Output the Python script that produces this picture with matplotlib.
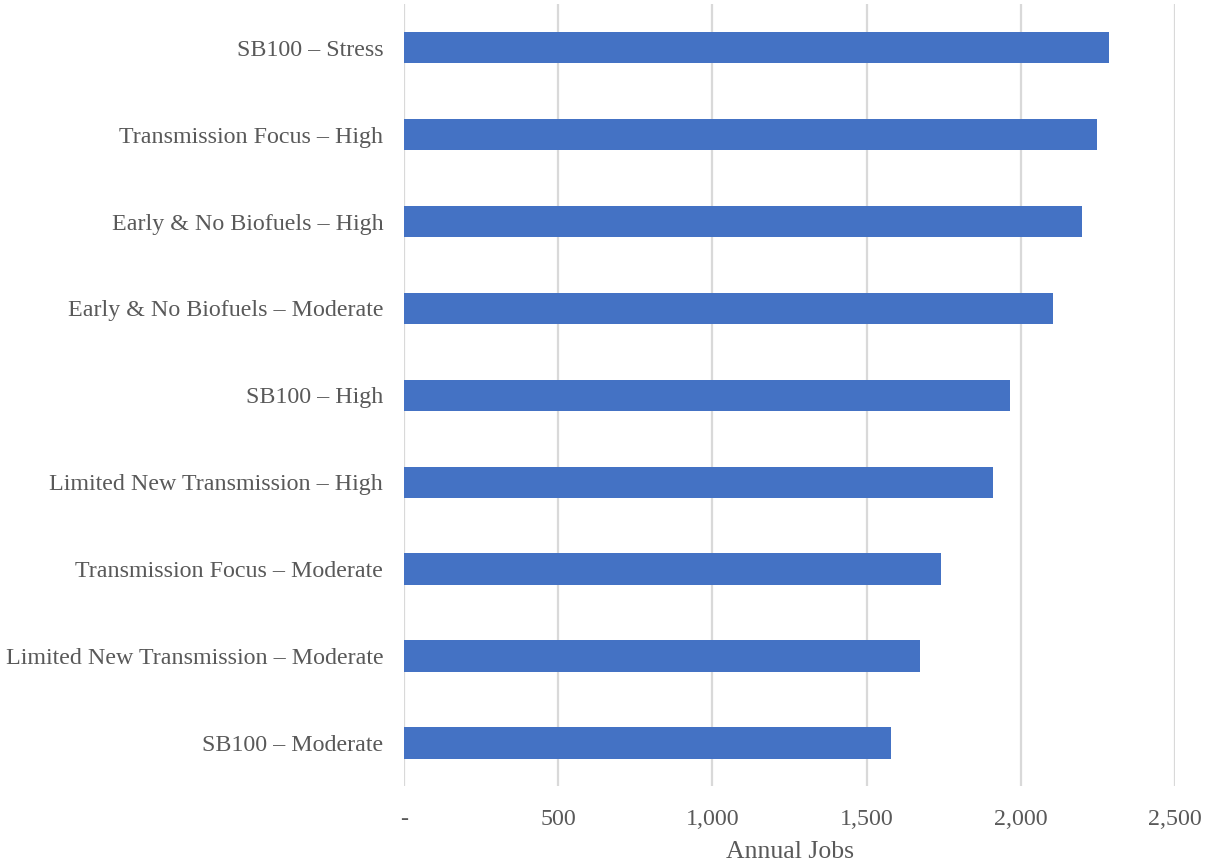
import matplotlib.pyplot as plt
from matplotlib.ticker import FuncFormatter

# scenarios, top to bottom
scenarios = [
    "SB100 \u2013 Stress",
    "Transmission Focus \u2013 High",
    "Early & No Biofuels \u2013 High",
    "Early & No Biofuels \u2013 Moderate",
    "SB100 \u2013 High",
    "Limited New Transmission \u2013 High",
    "Transmission Focus \u2013 Moderate",
    "Limited New Transmission \u2013 Moderate",
    "SB100 \u2013 Moderate",
]
annual_jobs = [2285, 2247, 2197, 2106, 1966, 1909, 1740, 1674, 1579]

TEXT = "#595959"
plt.rcParams["font.family"] = ["Liberation Serif", "DejaVu Serif"]

fig = plt.figure(figsize=(12.06, 8.67), dpi=100)
ax = fig.add_axes([0.335, 0.093, 0.6393, 0.902])

ypos = list(range(len(scenarios)))
ax.barh(ypos, annual_jobs, height=0.36, color="#4472C4", zorder=3)

ax.set_xlim(0, 2500)
ax.set_ylim(len(scenarios) - 0.5, -0.5)
ax.set_xticks([0, 500, 1000, 1500, 2000, 2500])
ax.xaxis.set_major_formatter(
    FuncFormatter(lambda v, _: "-" if v == 0 else f"{v:,.0f}"))
ax.set_yticks(ypos)
ax.set_yticklabels(scenarios)

ax.grid(axis="x", color="#D9D9D9", linewidth=1.6, zorder=0)
for s in ax.spines.values():
    s.set_visible(False)
ax.tick_params(axis="both", length=0, colors=TEXT, labelsize=17.3)
ax.tick_params(axis="x", pad=16)
ax.tick_params(axis="y", pad=15)
ax.set_xlabel("Annual Jobs", fontsize=18.5, color=TEXT, labelpad=8)

fig.savefig("out.png", dpi=100, facecolor="white")
